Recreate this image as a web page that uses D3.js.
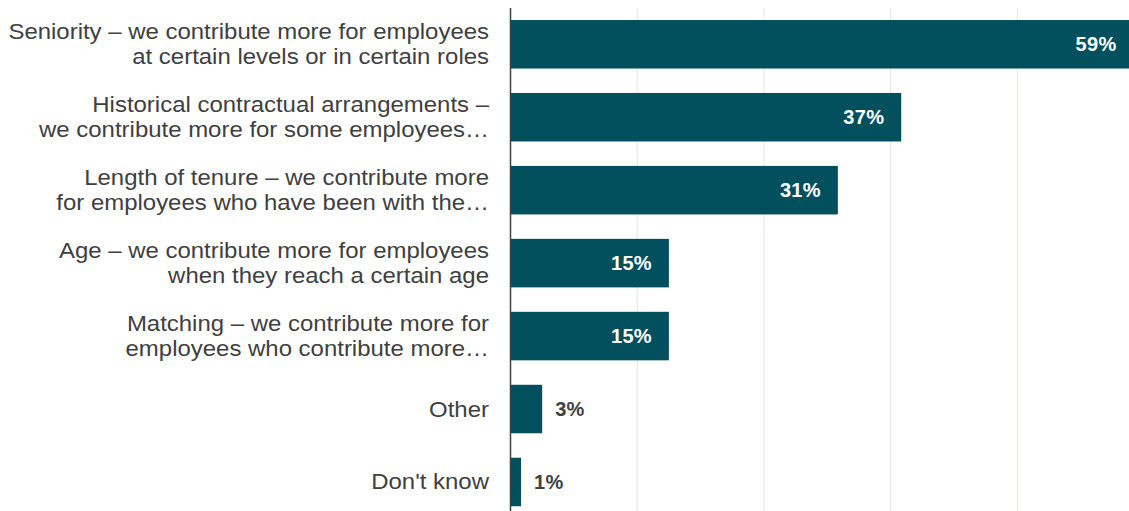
<!DOCTYPE html>
<html>
<head>
<meta charset="utf-8">
<script src="https://cdn.jsdelivr.net/npm/d3@7"></script>
<style>
  html, body { margin: 0; padding: 0; background: #ffffff; }
  svg { display: block; }
</style>
</head>
<body>
<svg id="chart" width="1129" height="511"></svg>
<script>
// Reasons employers contribute more for some employees (% of respondents)
const categories = [
  ["Seniority – we contribute more for employees", "at certain levels or in certain roles"],
  ["Historical contractual arrangements –", "we contribute more for some employees…"],
  ["Length of tenure – we contribute more", "for employees who have been with the…"],
  ["Age – we contribute more for employees", "when they reach a certain age"],
  ["Matching – we contribute more for", "employees who contribute more…"],
  ["Other"],
  ["Don't know"]
];
const values = [59, 37, 31, 15, 15, 3, 1];
const gridTicks = [12, 24, 36, 48, 60];

const W = 1129, H = 511;
const x0 = 510.5;
const svg = d3.select("#chart");

const x = d3.scaleLinear().domain([0, 60]).range([x0, x0 + 633.6]);
const y = d3.scaleBand()
  .domain(d3.range(categories.length))
  .range([7.8, 518.45])
  .paddingInner(0.335)
  .paddingOuter(0.1675);

// gridlines
svg.append("g").selectAll("line")
  .data(gridTicks)
  .join("line")
  .attr("x1", d => x(d)).attr("x2", d => x(d))
  .attr("y1", 8).attr("y2", H)
  .attr("stroke", "#e6e4de")
  .attr("stroke-width", 1);

// bars
svg.append("g").selectAll("rect")
  .data(values)
  .join("rect")
  .attr("x", x(0))
  .attr("y", (d, i) => y(i))
  .attr("width", d => x(d) - x(0))
  .attr("height", y.bandwidth())
  .attr("fill", "#02505e");

// axis line
svg.append("line")
  .attr("x1", x0).attr("x2", x0)
  .attr("y1", 8).attr("y2", H)
  .attr("stroke", "#404040")
  .attr("stroke-width", 1.5);

// value labels
svg.append("g").selectAll("text")
  .data(values)
  .join("text")
  .attr("x", d => d >= 10 ? x(d) - 17 : x(d) + 13)
  .attr("y", (d, i) => y(i) + y.bandwidth() / 2)
  .attr("dy", "0.36em")
  .attr("text-anchor", d => d >= 10 ? "end" : "start")
  .attr("fill", d => d >= 10 ? "#ffffff" : "#404040")
  .attr("font-family", "Liberation Sans, Arial, sans-serif")
  .attr("font-weight", "bold")
  .attr("font-size", 20)
  .attr("letter-spacing", 0.3)
  .text(d => d + "%");

// category labels, set slightly wide
const lab = svg.append("g")
  .attr("transform", "translate(489,0) scale(1.115,1)")
  .selectAll("text")
  .data(categories)
  .join("text")
  .attr("text-anchor", "end")
  .attr("fill", "#404040")
  .attr("font-family", "Liberation Sans, Arial, sans-serif")
  .attr("font-size", 21.5);

const lineH = 25;
lab.each(function(lines, i) {
  const cy = y(i) + y.bandwidth() / 2;
  const start = cy - (lines.length - 1) * lineH / 2;
  d3.select(this).selectAll("tspan")
    .data(lines)
    .join("tspan")
    .attr("x", 0)
    .attr("y", (t, j) => start + j * lineH)
    .attr("dy", "0.35em")
    .text(t => t);
});
</script>
</body>
</html>
